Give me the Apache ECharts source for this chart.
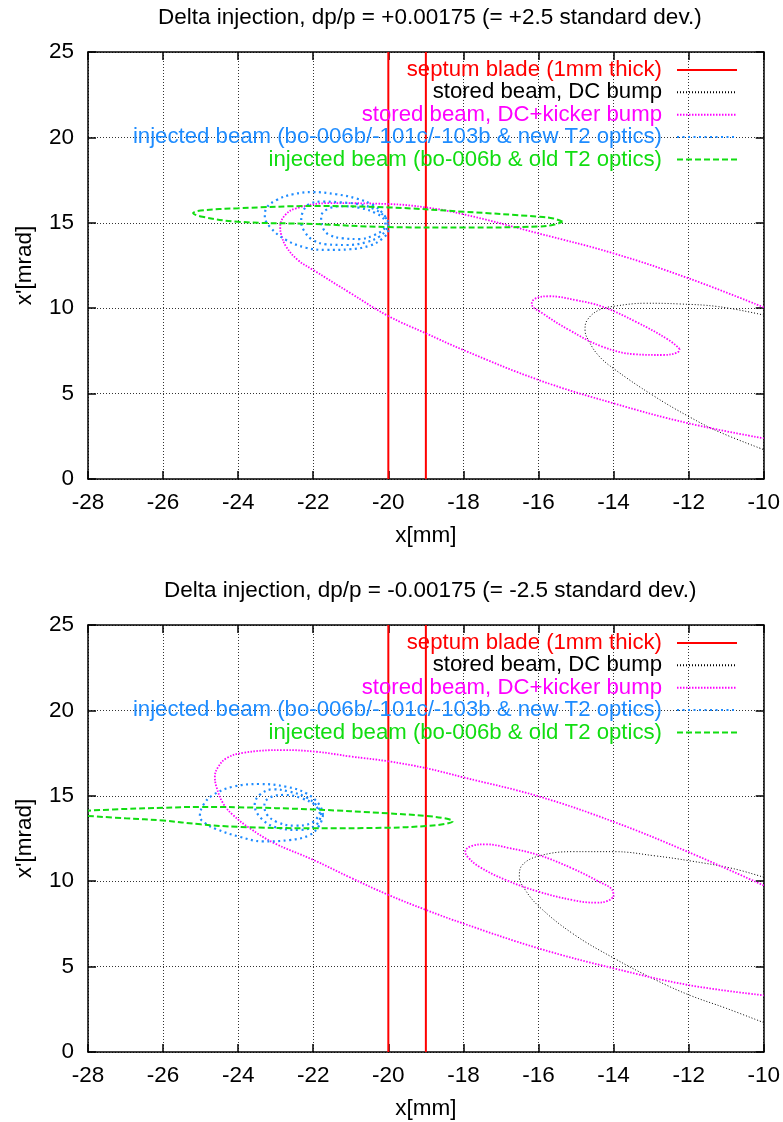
<!DOCTYPE html>
<html>
<head>
<meta charset="utf-8">
<title>Delta injection phase space</title>
<script src="https://cdn.jsdelivr.net/npm/echarts@6/dist/echarts.min.js"></script>
<style>
  html, body { margin: 0; padding: 0; background: #fff; }
  #chart { width: 783px; height: 1122px; }
</style>
</head>
<body>
<div id="chart"></div>
<script>
// ---- axis ranges / ticks ----
const xRange = [-28, -10];
const xStep = 2;
const yRange = [0, 25];
const yStep = 5;

// ---- septum blade edges (x in mm) ----
const septumX = [-20, -19];

// ---- panel 1: dp/p = +0.00175 ----
const topStoredDC = [
  [-10.0, 9.60], [-11.2, 10.09], [-12.26, 10.25], [-13.14, 10.29], [-13.94, 10.13],
  [-14.39, 9.89], [-14.7, 9.31], [-14.76, 8.72], [-14.65, 8.04], [-14.39, 7.2],
  [-13.99, 6.45], [-12.97, 4.92], [-11.99, 3.65], [-11.2, 2.77], [-10.0, 1.72]
];
const topKickBig = [
  [-10.0, 10.05], [-12.0, 11.75], [-14.0, 13.21], [-16.0, 14.38], [-18.0, 15.5],
  [-19.0, 15.9], [-20.0, 16.1], [-21.6, 16.15], [-22.45, 15.85], [-22.75, 15.45],
  [-22.88, 14.75], [-22.85, 14.29], [-22.72, 13.6], [-22.41, 12.82], [-22.0, 12.24],
  [-21.0, 10.87], [-20.0, 9.54], [-19.0, 8.53], [-18.0, 7.55], [-16.0, 5.8],
  [-14.0, 4.43], [-12.0, 3.26], [-10.0, 2.38]
];
const topKickSmall = [
  [-12.24, 7.62], [-12.53, 8.14], [-13.41, 9.21], [-14.3, 10.09], [-15.0, 10.47],
  [-15.72, 10.7], [-16.1, 10.55], [-16.18, 10.25], [-15.89, 9.7], [-15.18, 8.72],
  [-14.3, 7.75], [-13.41, 7.3], [-12.7, 7.26], [-12.3, 7.4], [-12.24, 7.62]
];
const topNewT2a = [
  [-20.0, 15.06], [-20.15, 15.56], [-20.41, 16.04], [-20.86, 16.43], [-21.39, 16.67],
  [-22.01, 16.8], [-22.54, 16.67], [-22.98, 16.33], [-23.25, 15.85], [-23.29, 15.36],
  [-23.12, 14.68], [-22.72, 13.99], [-22.19, 13.54], [-21.65, 13.41], [-21.03, 13.45],
  [-20.5, 13.66], [-20.15, 14.09], [-20.0, 14.58], [-20.0, 15.06]
];
const topNewT2b = [
  [-20.02, 14.9], [-20.06, 15.26], [-20.33, 15.75], [-20.77, 16.08], [-21.3, 16.2],
  [-21.74, 16.24], [-22.1, 16.1], [-22.29, 15.56], [-22.32, 15.06], [-22.23, 14.48],
  [-22.01, 13.99], [-21.65, 13.74], [-21.12, 13.7], [-20.59, 13.86], [-20.24, 14.19],
  [-20.06, 14.58], [-20.02, 14.9]
];
const topNewT2c = [
  [-20.08, 14.9], [-20.1, 15.16], [-20.33, 15.56], [-20.77, 15.88], [-21.21, 15.97],
  [-21.57, 15.85], [-21.79, 15.36], [-21.74, 14.68], [-21.57, 14.29], [-21.21, 14.09],
  [-20.77, 14.05], [-20.37, 14.29], [-20.1, 14.68], [-20.08, 14.9]
];
const topOldT2 = [
  [-15.36, 15.06], [-15.6, 15.25], [-16.0, 15.36], [-18.0, 15.65], [-20.0, 15.9],
  [-22.0, 15.98], [-24.0, 15.85], [-25.0, 15.72], [-25.2, 15.57], [-24.95, 15.35],
  [-24.0, 15.06], [-22.0, 14.93], [-20.0, 14.75], [-18.0, 14.72], [-16.0, 14.78],
  [-15.6, 14.88], [-15.36, 15.06]
];

// ---- panel 2: dp/p = -0.00175 ----
const botStoredDC = [
  [-10.0, 10.23], [-10.84, 10.75], [-11.99, 11.2], [-12.88, 11.48], [-13.99, 11.73],
  [-15.1, 11.73], [-15.98, 11.48], [-16.43, 10.95], [-16.51, 10.26], [-16.38, 9.58],
  [-16.0, 8.55], [-15.1, 6.95], [-13.99, 5.49], [-12.88, 4.22], [-11.99, 3.34],
  [-11.0, 2.56], [-10.0, 1.72]
];
const botKickBig = [
  [-10.0, 9.75], [-12.0, 11.7], [-14.0, 13.48], [-16.0, 14.97], [-18.0, 16.08],
  [-19.0, 16.62], [-20.0, 17.02], [-21.0, 17.3], [-21.92, 17.58], [-22.81, 17.68],
  [-23.87, 17.52], [-24.31, 17.2], [-24.53, 16.7], [-24.62, 16.12], [-24.58, 15.53],
  [-24.4, 14.56], [-24.14, 13.88], [-23.69, 13.1], [-23.04, 12.23], [-22.0, 11.25],
  [-21.0, 10.2], [-20.0, 9.2], [-19.0, 8.32], [-18.0, 7.52], [-16.0, 6.07],
  [-14.0, 4.9], [-12.0, 3.92], [-10.0, 3.32]
];
const botKickSmall = [
  [-14.0, 9.09], [-14.03, 9.48], [-14.39, 9.97], [-15.1, 10.75], [-16.0, 11.53],
  [-16.8, 11.95], [-17.4, 12.16], [-17.8, 12.05], [-17.95, 11.73], [-17.89, 11.43],
  [-17.58, 10.85], [-16.87, 10.07], [-16.0, 9.39], [-15.1, 8.9], [-14.47, 8.74],
  [-14.15, 8.85], [-14.0, 9.09]
];
const botNewT2a = [
  [-21.74, 13.88], [-21.83, 14.46], [-22.19, 15.15], [-22.72, 15.53], [-23.43, 15.69],
  [-24.14, 15.53], [-24.67, 15.05], [-24.93, 14.46], [-25.02, 13.78], [-24.88, 13.4],
  [-24.58, 13.05], [-23.96, 12.6], [-23.34, 12.33], [-22.63, 12.41], [-22.1, 12.7],
  [-21.83, 13.29], [-21.74, 13.88]
];
const botNewT2b = [
  [-21.79, 13.88], [-21.88, 14.36], [-22.19, 14.91], [-22.63, 15.24], [-23.07, 15.38],
  [-23.43, 15.05], [-23.56, 14.46], [-23.34, 13.58], [-22.9, 13.1], [-22.36, 13.0],
  [-21.92, 13.3], [-21.79, 13.88]
];
const botNewT2c = [
  [-21.82, 13.95], [-21.95, 14.45], [-22.3, 14.85], [-22.75, 15.05], [-23.1, 14.95],
  [-23.3, 14.5], [-23.25, 13.95], [-22.95, 13.45], [-22.5, 13.25], [-22.05, 13.4],
  [-21.82, 13.95]
];
const botOldT2 = [
  [-28.0, 13.82], [-27.0, 13.68], [-26.0, 13.55], [-25.0, 13.33], [-24.0, 13.18],
  [-22.0, 13.1], [-20.0, 13.13], [-19.0, 13.23], [-18.5, 13.35], [-18.28, 13.52],
  [-18.5, 13.68], [-19.0, 13.82], [-20.0, 13.97], [-22.0, 14.2], [-24.0, 14.33],
  [-25.0, 14.35], [-26.0, 14.3], [-27.0, 14.23], [-28.0, 14.13]
];

// ---- labels ----
const titles = [
  'Delta injection, dp/p = +0.00175 (= +2.5 standard dev.)',
  'Delta injection, dp/p = -0.00175 (= -2.5 standard dev.)'
];
const names = {
  septum: 'septum blade (1mm thick)',
  dc: 'stored beam, DC bump',
  kick: 'stored beam, DC+kicker bump',
  newT2: 'injected beam (bo-006b/-101c/-103b & new T2 optics)',
  oldT2: 'injected beam (bo-006b & old T2 optics)'
};
const colors = {
  septum: '#ff0000',
  dc: '#000000',
  kick: '#ff00ff',
  newT2: '#1e8cff',
  oldT2: '#11dd11'
};

const FONT = '"Liberation Sans", Arial, Helvetica, sans-serif';
const FS = 22.5;
const FS_LEGEND = 22.2;
const gridTops = [52, 625];
const plotH = 427;

function septumData() {
  const d = [];
  septumX.forEach((x, i) => {
    if (i) d.push(null);
    d.push([x, yRange[0]], [x, yRange[1]]);
  });
  return d;
}

const styles = {
  septum: { color: colors.septum, width: 2, type: 'solid' },
  dc: { color: colors.dc, width: 1, type: [1, 2] },
  kick: { color: colors.kick, width: 1.8, type: [1.5, 1.5] },
  newT2: { color: colors.newT2, width: 2.2, type: [2, 3.5] },
  oldT2: { color: colors.oldT2, width: 2, type: [6, 3] }
};

function lineSeries(key, data, panel, smooth) {
  return {
    type: 'line',
    name: names[key],
    xAxisIndex: panel * 2,
    yAxisIndex: panel * 2,
    data: data,
    smooth: smooth ? 0.4 : false,
    symbol: 'none',
    showSymbol: false,
    connectNulls: false,
    clip: true,
    silent: true,
    animation: false,
    color: colors[key],
    lineStyle: styles[key]
  };
}

const panels = [
  { dc: [topStoredDC], kick: [topKickBig, topKickSmall], newT2: [topNewT2a, topNewT2b, topNewT2c], oldT2: [topOldT2] },
  { dc: [botStoredDC], kick: [botKickBig, botKickSmall], newT2: [botNewT2a, botNewT2b, botNewT2c], oldT2: [botOldT2] }
];

const series = [];
panels.forEach((p, i) => {
  series.push(lineSeries('septum', septumData(), i, false));
  ['dc', 'kick', 'newT2', 'oldT2'].forEach(k => {
    p[k].forEach(d => series.push(lineSeries(k, d, i, true)));
  });
});

const grids = gridTops.map(t => ({ left: 88, top: t, width: 677, height: plotH, containLabel: false }));

const axisLineStyle = { show: true, onZero: false, lineStyle: { color: '#000', width: 1.5 } };
const tickStyle = { show: true, inside: true, length: 8, lineStyle: { color: '#000', width: 1.5 } };
const gridLineStyle = { show: true, lineStyle: { color: '#333', width: 1, type: [1, 2] } };

const xAxes = [];
const yAxes = [];
gridTops.forEach((t, i) => {
  xAxes.push({
    type: 'value', gridIndex: i, position: 'bottom',
    min: xRange[0], max: xRange[1], interval: xStep,
    name: 'x[mm]', nameLocation: 'middle', nameGap: 45,
    nameTextStyle: { fontFamily: FONT, fontSize: FS, color: '#000' },
    axisLine: axisLineStyle, axisTick: tickStyle,
    axisLabel: { fontFamily: FONT, fontSize: FS, color: '#000', margin: 12 },
    splitLine: gridLineStyle
  });
  xAxes.push({
    type: 'value', gridIndex: i, position: 'top',
    min: xRange[0], max: xRange[1], interval: xStep,
    axisLine: axisLineStyle, axisTick: tickStyle,
    axisLabel: { show: false }, splitLine: { show: false }
  });
  yAxes.push({
    type: 'value', gridIndex: i, position: 'left',
    min: yRange[0], max: yRange[1], interval: yStep,
    name: "x'[mrad]", nameLocation: 'middle', nameGap: 52, nameRotate: 90,
    nameTextStyle: { fontFamily: FONT, fontSize: FS, color: '#000' },
    axisLine: axisLineStyle, axisTick: tickStyle,
    axisLabel: { fontFamily: FONT, fontSize: FS, color: '#000', margin: 14 },
    splitLine: gridLineStyle
  });
  yAxes.push({
    type: 'value', gridIndex: i, position: 'right',
    min: yRange[0], max: yRange[1], interval: yStep,
    axisLine: axisLineStyle, axisTick: tickStyle,
    axisLabel: { show: false }, splitLine: { show: false }
  });
});

const legendOrder = ['septum', 'dc', 'kick', 'newT2', 'oldT2'];
const legends = [59, 632].map(top => ({
  orient: 'vertical',
  right: 45,
  top: top,
  align: 'right',
  itemWidth: 60,
  itemHeight: 14,
  itemGap: 0.35,
  padding: 0,
  selectedMode: false,
  itemStyle: { opacity: 0, borderWidth: 0 },
  textStyle: { fontFamily: FONT, fontSize: FS_LEGEND, lineHeight: 22, padding: [0, 10, 0, 0] },
  data: legendOrder.map(k => ({ name: names[k], textStyle: { color: colors[k] } }))
}));

const chart = echarts.init(document.getElementById('chart'), null, { renderer: 'canvas', width: 783, height: 1122 });
chart.setOption({
  backgroundColor: '#ffffff',
  animation: false,
  title: [
    { text: titles[0], left: 158, top: 6, padding: 0, textStyle: { fontFamily: FONT, fontSize: FS, fontWeight: 'normal', color: '#000' } },
    { text: titles[1], left: 164, top: 579, padding: 0, textStyle: { fontFamily: FONT, fontSize: FS, fontWeight: 'normal', color: '#000' } }
  ],
  legend: legends,
  grid: grids,
  xAxis: xAxes,
  yAxis: yAxes,
  series: series
});
</script>
</body>
</html>
